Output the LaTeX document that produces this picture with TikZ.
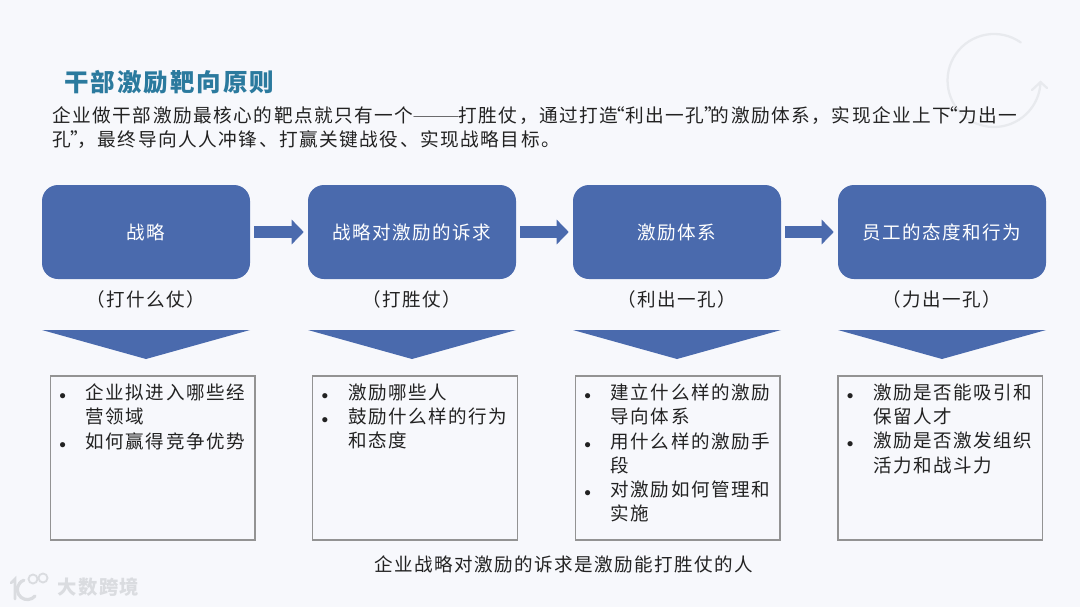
\documentclass[tikz,border=0pt]{standalone}
\usepackage{fontspec}
\usepackage{xcolor}
\usetikzlibrary{arrows.meta}
\newfontfamily\cjk[LetterSpace=8]{Noto Sans CJK SC}
\definecolor{pagebg}{HTML}{F7F8FC}
\definecolor{boxblue}{HTML}{4A6AAD}
\definecolor{titleblue}{HTML}{2B7A9E}
\definecolor{ghost}{HTML}{E8EAEE}
\definecolor{brandgray}{HTML}{DADCE0}
\definecolor{txt}{HTML}{222222}
\newcommand{\bulitem}[1]{\makebox[20pt][l]{$\scriptstyle\bullet$}#1}
\newcommand{\contline}[1]{\hspace*{20pt}#1}
\newcommand{\openq}{\makebox[5pt][r]{“}}
\newcommand{\closeq}{\makebox[5pt][l]{”}}
\newcommand{\longdash}{{\normalfont\bfseries\fontsize{15}{18}\selectfont ——}}
\tikzset{
	stepbox/.style={fill=boxblue, rounded corners=12pt, minimum width=156pt, minimum height=70.5pt, inner sep=0pt, text=white, font=\cjk\fontsize{13.9}{18.2}\selectfont},
	flowarrow/.style={draw=boxblue, line width=9pt, -{Triangle[length=9pt,width=18pt]}, shorten <=3pt, shorten >=3pt},
	pointer/.style={fill=boxblue},
	listbox/.style={draw=gray!85, line width=1.1pt, minimum width=153.5pt, minimum height=123pt, inner sep=0pt},
	listtext/.style={anchor=north west, align=left, inner sep=0pt, text=txt, xshift=7pt, yshift=-6.2pt, font=\cjk\fontsize{13.9}{18.2}\selectfont},
	plain/.style={inner sep=0pt, text=txt, font=\cjk\fontsize{13.9}{18.2}\selectfont},
	ringline/.style={ghost, line width=1.7pt, line cap=round},
}
\begin{document}
\begin{tikzpicture}[x=0.75pt,y=-0.75pt]
		\useasboundingbox (0,0) rectangle (1080,607);
		\fill[pagebg] (0,0) rectangle (1080,607);
		
		%faint ring, top right
		\draw[ringline] (1020.7,42.4) arc [start angle=-55, end angle=-358, radius=46.5] coordinate (ringend);
		\draw[ringline] (1032,90) -- (ringend) -- (1047,88);
		
		\node (title) [anchor=west, inner sep=0pt, text=titleblue, font=\cjk\bfseries\fontsize{18.4}{24}\selectfont] at (64,82) {干部激励靶向原则};
		\node (intro) [anchor=north west, align=left, inner sep=0pt, text=txt, font=\cjk\fontsize{14}{18.6}\selectfont] at (52,106) {企业做干部激励最核心的靶点就只有一个\longdash 打胜仗，通过打造\openq 利出一孔\closeq 的激励体系，实现企业上下\openq 力出一\\孔\closeq ，最终导向人人冲锋、打赢关键战役、实现战略目标。};
		
		\foreach \name/\cx/\head/\sub in {strat/146/战略/（打什么仗）, need/412/战略对激励的诉求/（打胜仗）, sys/677/激励体系/（利出一孔）, staff/942/员工的态度和行为/（力出一孔）} {
			\node (\name) [stepbox] at (\cx,232) {\head};
			\node (\name sub) [plain] at (\cx,299) {\sub};
			\fill[pointer] (\cx-104,330) -- (\cx+104,330) -- (\cx,359) -- cycle;
		}
		
		\draw[flowarrow] (strat) -- (need);
		\draw[flowarrow] (need) -- (sys);
		\draw[flowarrow] (sys) -- (staff);
		
		\node (stratlist) [listbox] at (152.75,458) {};
		\node (needlist) [listbox] at (415,458) {};
		\node (syslist) [listbox] at (677.75,458) {};
		\node (stafflist) [listbox] at (940.25,458) {};
		
		\node (strattext) [listtext] at (stratlist.north west) {\bulitem{企业拟进入哪些经}\\\contline{营领域}\\\bulitem{如何赢得竞争优势}};
		\node (needtext) [listtext] at (needlist.north west) {\bulitem{激励哪些人}\\\bulitem{鼓励什么样的行为}\\\contline{和态度}};
		\node (systext) [listtext] at (syslist.north west) {\bulitem{建立什么样的激励}\\\contline{导向体系}\\\bulitem{用什么样的激励手}\\\contline{段}\\\bulitem{对激励如何管理和}\\\contline{实施}};
		\node (stafftext) [listtext] at (stafflist.north west) {\bulitem{激励是否能吸引和}\\\contline{保留人才}\\\bulitem{激励是否激发组织}\\\contline{活力和战斗力}};
		
		\node (footer) [plain] at (564,564) {企业战略对激励的诉求是激励能打胜仗的人};
		
		%watermark, bottom left
		\draw[brandgray, line width=2pt, line cap=round] (11,583) -- (15,579) -- (15,599);
		\draw[brandgray, line width=2.4pt, line cap=round] (35,596) arc [start angle=40, end angle=250, radius=10];
		\draw[brandgray, line width=1.4pt] (33,579) circle [radius=4.5];
		\draw[brandgray, line width=1.4pt] (43,578) circle [radius=4.5];
		\node (brand) [anchor=west, inner sep=0pt, text=brandgray, font=\cjk\bfseries\fontsize{14.5}{18}\selectfont] at (57,587) {大数跨境};
		
\end{tikzpicture}
\end{document}
